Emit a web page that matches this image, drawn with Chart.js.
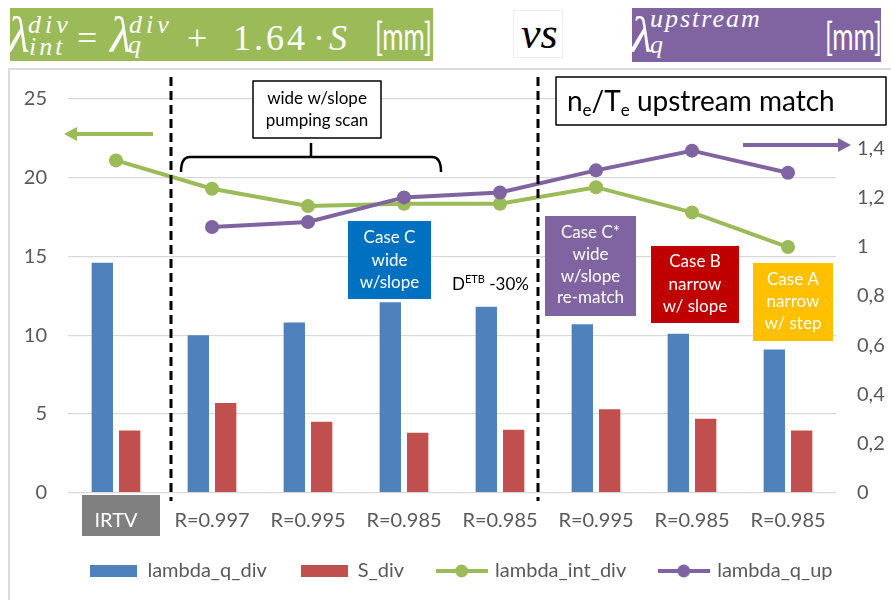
<!DOCTYPE html>
<html>
<head>
<meta charset="utf-8">
<script src="https://cdn.jsdelivr.net/npm/chart.js@4.4.1/dist/chart.umd.min.js"></script>
<style>
  body { margin: 0; background: #fff; width: 891px; height: 600px; overflow: hidden; position: relative; font-family: Lato, sans-serif; }
  #wrap { position: absolute; left: 0; top: 0; width: 915px; height: 600px; }
  .frame { position: absolute; left: 8px; top: 68px; width: 900px; height: 540px; border-left: 2px solid #dcdcdc; border-top: 2px solid #dcdcdc; }
  .bg { position: absolute; }
  .g { position: absolute; line-height: 1; white-space: nowrap; color: #fff; font-family: "Liberation Serif", serif; }
  .it { font-style: italic; }
  .mm { font-family: Lato, sans-serif; transform: scaleX(0.68); transform-origin: 0 0; }
</style>
</head>
<body>
<div class="frame"></div>
<div class="bg" style="left:10px;top:8px;width:423px;height:53px;background:#9bbb59"></div>
<div class="bg" style="left:513px;top:10px;width:48px;height:46px;background:#fff;border:1px solid #eee"></div>
<div class="bg" style="left:632px;top:8px;width:249px;height:54px;background:#8064a2"></div>

<span class="g it" style="left:8px;top:10px;font-size:50px">λ</span>
<span class="g it" style="left:28px;top:12px;font-size:26px;letter-spacing:4px">div</span>
<span class="g it" style="left:29px;top:34px;font-size:26px;letter-spacing:3px">int</span>
<span class="g" style="left:77px;top:20px;font-size:36px">=</span>
<span class="g it" style="left:110px;top:10px;font-size:50px">λ</span>
<span class="g it" style="left:129px;top:12px;font-size:26px;letter-spacing:4px">div</span>
<span class="g it" style="left:128px;top:32px;font-size:26px">q</span>
<span class="g" style="left:187px;top:20px;font-size:36px">+</span>
<span class="g" style="left:233px;top:20px;font-size:36px;letter-spacing:3px">1.64</span>
<span class="g" style="left:313px;top:20px;font-size:36px">·</span>
<span class="g it" style="left:329px;top:20px;font-size:36px">S</span>
<span class="g mm" style="left:375px;top:16px;font-size:38px">[mm]</span>

<span class="g it" style="left:521px;top:12px;font-size:44px;color:#000">vs</span>

<span class="g it" style="left:631px;top:10px;font-size:50px">λ</span>
<span class="g it" style="left:650px;top:6px;font-size:26px;letter-spacing:2px">upstream</span>
<span class="g it" style="left:650px;top:32px;font-size:26px">q</span>
<span class="g mm" style="left:825px;top:16px;font-size:38px">[mm]</span>

<div id="wrap"><canvas id="chart" width="915" height="600"></canvas></div>
<script>
const categories = ['IRTV', 'R=0.997', 'R=0.995', 'R=0.985', 'R=0.985', 'R=0.995', 'R=0.985', 'R=0.985'];
const lambdaQDiv = [14.6, 10.0, 10.8, 12.1, 11.8, 10.7, 10.1, 9.1];
const sDiv = [3.95, 5.7, 4.5, 3.8, 4.0, 5.3, 4.7, 3.95];
const lambdaIntDiv = [21.1, 19.3, 18.2, 18.35, 18.35, 19.4, 17.8, 15.6];
const lambdaQUp = [null, 1.08, 1.10, 1.20, 1.22, 1.31, 1.39, 1.30];
const leftTicks = [0, 5, 10, 15, 20, 25];
const rightTicks = [0, 0.2, 0.4, 0.6, 0.8, 1, 1.2, 1.4, 1.6];

const BLUE = '#4f81bd', RED = '#c0504d', GREEN = '#9bbb59', PURPLE = '#8064a2';
const GREY_TXT = '#595959';

function legendIcon(color, isLine) {
  const c = document.createElement('canvas');
  c.width = isLine ? 52 : 47;
  c.height = 16;
  const g = c.getContext('2d');
  g.fillStyle = color;
  if (isLine) {
    g.strokeStyle = color;
    g.lineWidth = 4;
    g.beginPath(); g.moveTo(0, 8); g.lineTo(52, 8); g.stroke();
    g.beginPath(); g.arc(26, 8, 6.5, 0, Math.PI * 2); g.fill();
  } else {
    g.fillRect(0, 2, 47, 12);
  }
  return c;
}
const icons = [legendIcon(BLUE), legendIcon(RED), legendIcon(GREEN, true), legendIcon(PURPLE, true)];

function boxText(ctx, x, y, w, h, fill, lines, lineYs, color, size) {
  if (fill) { ctx.fillStyle = fill; ctx.fillRect(x, y, w, h); }
  ctx.fillStyle = color;
  ctx.font = size + 'px Lato, sans-serif';
  ctx.textAlign = 'center';
  ctx.textBaseline = 'middle';
  lines.forEach((t, i) => ctx.fillText(t, x + w / 2, lineYs[i]));
}

function arrow(ctx, x1, x2, y, color, dir) {
  ctx.strokeStyle = color;
  ctx.fillStyle = color;
  ctx.lineWidth = 4;
  ctx.beginPath(); ctx.moveTo(x1, y); ctx.lineTo(x2 - dir * 8, y); ctx.stroke();
  ctx.beginPath();
  ctx.moveTo(x2, y); ctx.lineTo(x2 - dir * 13, y - 7); ctx.lineTo(x2 - dir * 13, y + 7);
  ctx.closePath(); ctx.fill();
}

function runs(ctx, x, y, parts) {
  ctx.textAlign = 'left';
  ctx.textBaseline = 'alphabetic';
  parts.forEach(([t, f, dy]) => {
    ctx.font = f;
    ctx.fillText(t, x, y + dy);
    x += ctx.measureText(t).width;
  });
}

const decorations = {
  id: 'decorations',
  beforeDraw(chart) {
    const ctx = chart.ctx;
    ctx.save();
    ctx.fillStyle = '#808080';
    ctx.fillRect(82, 495, 78, 41);
    ctx.restore();
  },
  afterDraw(chart) {
    const ctx = chart.ctx;
    ctx.save();
    // dashed separators
    ctx.strokeStyle = '#000';
    ctx.lineWidth = 3;
    ctx.setLineDash([9, 5]);
    [171, 538].forEach(x => { ctx.beginPath(); ctx.moveTo(x, 77); ctx.lineTo(x, 501); ctx.stroke(); });
    ctx.setLineDash([]);

    // bracket over the pumping scan
    ctx.lineWidth = 2.5;
    ctx.lineJoin = 'round';
    ctx.beginPath();
    ctx.moveTo(181, 172); ctx.quadraticCurveTo(181, 157, 190, 157);
    ctx.lineTo(432, 157); ctx.quadraticCurveTo(441, 157, 441, 172);
    ctx.moveTo(311, 157); ctx.lineTo(311, 143);
    ctx.stroke();

    ctx.fillStyle = '#fff';
    ctx.fillRect(253, 81, 128, 57);
    ctx.lineWidth = 1.5;
    ctx.strokeRect(253, 81, 128, 57);
    boxText(ctx, 253, 81, 128, 57, null, ['wide w/slope', 'pumping scan'], [99, 121], '#000', 17);

    // axis arrows
    arrow(ctx, 153, 64, 134, GREEN, -1);
    arrow(ctx, 743, 851, 145, PURPLE, 1);

    // ne/Te box
    ctx.fillStyle = '#fff';
    ctx.fillRect(556, 77, 330, 48);
    ctx.strokeStyle = '#000';
    ctx.lineWidth = 1.5;
    ctx.strokeRect(556, 77, 330, 48);
    ctx.fillStyle = '#000';
    const big = '28px Lato, sans-serif', small = '17px Lato, sans-serif';
    runs(ctx, 567, 111, [['n', big, 0], ['e', small, 5], ['/T', big, 0], ['e', small, 5], [' upstream match', big, 0]]);

    // case boxes
    boxText(ctx, 348, 221, 83, 78, '#0070c0', ['Case C', 'wide', 'w/slope'], [238, 261, 283], '#fff', 17);
    boxText(ctx, 545, 216, 91, 100, PURPLE, ['Case C*', 'wide', 'w/slope', 're-match'], [233, 255, 277, 298], '#fff', 17);
    boxText(ctx, 651, 246, 88, 77, '#c00000', ['Case B', 'narrow', 'w/ slope'], [262, 285, 307], '#fff', 17);
    boxText(ctx, 753, 263, 80, 78, '#ffc000', ['Case A', 'narrow', 'w/ step'], [280, 302, 324], '#fff', 17);

    // D^ETB -30%
    ctx.fillStyle = '#000';
    runs(ctx, 452, 290, [['D', '17px Lato, sans-serif', 0], ['ETB', '11px Lato, sans-serif', -7], [' -30%', '17px Lato, sans-serif', 0]]);
    ctx.restore();
  }
};

new Chart(document.getElementById('chart'), {
  data: {
    labels: categories,
    datasets: [
      { type: 'bar', label: 'lambda_q_div', data: lambdaQDiv, backgroundColor: BLUE, yAxisID: 'y', order: 2 },
      { type: 'bar', label: 'S_div', data: sDiv, backgroundColor: RED, yAxisID: 'y', order: 2 },
      { type: 'line', label: 'lambda_int_div', data: lambdaIntDiv, borderColor: GREEN, backgroundColor: GREEN,
        borderWidth: 4, pointRadius: 7, pointHoverRadius: 7, pointBorderWidth: 0, yAxisID: 'y', order: 1 },
      { type: 'line', label: 'lambda_q_up', data: lambdaQUp, borderColor: PURPLE, backgroundColor: PURPLE,
        borderWidth: 4, pointRadius: 7, pointHoverRadius: 7, pointBorderWidth: 0, yAxisID: 'y1', order: 0 }
    ]
  },
  options: {
    responsive: false,
    animation: false,
    categoryPercentage: 0.57,
    barPercentage: 0.78,
    layout: { padding: { left: 8, right: 0, top: 99, bottom: 9 } },
    plugins: {
      tooltip: { enabled: false },
      legend: {
        position: 'bottom',
        labels: {
          usePointStyle: true,
          pointStyleWidth: 47,
          boxHeight: 12,
          padding: 34,
          color: GREY_TXT,
          font: { family: 'Lato', size: 20 },
          generateLabels: chart => chart.data.datasets.map((ds, i) => ({
            text: ds.label, pointStyle: icons[i], fillStyle: ds.backgroundColor,
            strokeStyle: ds.backgroundColor, lineWidth: 0, hidden: false, datasetIndex: i, fontColor: GREY_TXT
          }))
        }
      }
    },
    scales: {
      x: {
        grid: { display: false, drawTicks: false },
        border: { display: false },
        ticks: {
          padding: 16,
          font: { family: 'Lato', size: 20 },
          color: c => c.index === 0 ? '#fff' : GREY_TXT,
          maxRotation: 0, autoSkip: false
        },
        afterFit: s => { s.height = 34.3; }
      },
      y: {
        position: 'left',
        min: 0, max: 25,
        afterBuildTicks: s => { s.ticks = leftTicks.map(v => ({ value: v })); },
        grid: { color: '#d9d9d9', lineWidth: 1.3, drawTicks: false },
        border: { display: false },
        ticks: { padding: 21, font: { family: 'Lato', size: 20 }, color: GREY_TXT },
        afterFit: s => { s.width = 60; }
      },
      y1: {
        position: 'right',
        min: 0, max: 1.6,
        afterBuildTicks: s => { s.ticks = rightTicks.map(v => ({ value: v })); },
        grid: { display: false, drawTicks: false },
        border: { display: false },
        ticks: {
          padding: 21, font: { family: 'Lato', size: 20 }, color: GREY_TXT,
          callback: v => String(Math.round(v * 10) / 10).replace('.', ',')
        },
        afterFit: s => { s.width = 79; }
      }
    }
  },
  plugins: [decorations]
});
</script>
</body>
</html>
